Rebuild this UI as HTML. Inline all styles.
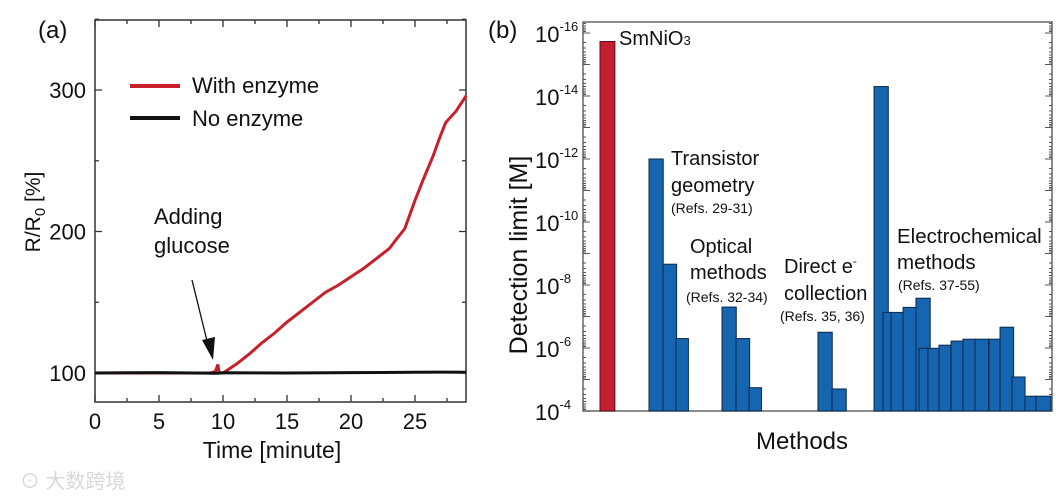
<!DOCTYPE html>
<html><head><meta charset="utf-8"><style>
html,body{margin:0;padding:0;background:#fff;}
svg{display:block;font-family:"Liberation Sans","Noto Sans CJK SC",sans-serif;}
</style></head><body>
<svg id="fig" width="1056" height="501" viewBox="0 0 1056 501" xmlns="http://www.w3.org/2000/svg">
<g id="pa"></g>
<g id="pb"></g>
<text x="20" y="488" font-size="20" fill="#d8d8d8">⊙ 大数跨境</text>
</svg>
<script>
// ---------- Panel (a) data ----------
const timeTicks = [0,5,10,15,20,25];
const yTicksA = [100,200,300];
const redT = [0,9,9.4,9.6,9.7,9.8,10,11,12,13,14,15,16,17,18,19,20,21,22,23,23.5,24.2,25,25.7,26.4,27,27.4,28.2,29];
const redV = [100,100,101,106,100,100,100,106,113,121,128,136,143,150,157,162,168,174,181,188,194,202,222,238,253,268,277,285,296];
const blackT = [0,5,9.5,10,15,20,25,27,29];
const blackV = [100,100.3,99.8,100.2,100,100.3,100.5,100.6,100.5];
// ---------- Panel (b) data ----------
const methodGroups = ["SmNiO3","Transistor","Transistor","Transistor","Optical","Optical","Optical","Direct","Direct",
 "Electro","Electro","Electro","Electro","Electro","Electro","Electro","Electro","Electro","Electro","Electro","Electro","Electro","Electro","Electro","Electro"];
const methodSlot = [0,3.95,5.08,6.13,9.84,10.97,12.02,17.58,18.71,22.1,22.82,23.47,24.44,25.48,25.73,26.45,27.34,28.31,29.27,30.24,31.37,32.26,33.23,34.27,35.16];
const slotWidth = [1.2,1.15,1.1,1,1.15,1.1,1,1.15,1.15,1.15,0.7,1,1.05,1.15,0.75,0.9,0.95,1,1,1.1,0.9,1.1,1.05,0.95,1.2];
const detExp = [-15.73,-12.0,-8.66,-6.3,-7.3,-6.3,-4.74,-6.5,-4.7,-14.3,-7.13,-7.13,-7.29,-7.58,-5.99,-5.99,-6.09,-6.22,-6.28,-6.28,-6.28,-6.66,-5.08,-4.47,-4.47];
const yTickExpB = [-16,-14,-12,-10,-8,-6,-4];

const NS="http://www.w3.org/2000/svg";
function mk(parent, tag, attrs, text){
  const e=document.createElementNS(NS,tag);
  for(const k in attrs) e.setAttribute(k,attrs[k]);
  if(text!==undefined) e.textContent=text;
  parent.appendChild(e); return e;
}
// ---- Panel a ----
const pa=document.getElementById('pa');
const ax=t=>95+t*12.8, ay=v=>373-(v-100)*1.415;
const boxA=mk(pa,'rect',{x:95,y:20,width:371,height:382,fill:'none',stroke:'#333','stroke-width':1.5});


for(let t=0;t<=29;t+=2.5){
  const len=(t%5===0)?7:4;
  const tk=mk(pa,'path',{d:`M${ax(t)},402v${-len}M${ax(t)},20v${len}`,stroke:'#333','stroke-width':1.3});
  
  
}
timeTicks.forEach(t=>{
  const l=mk(pa,'text',{x:ax(t),y:429,'font-size':22,'text-anchor':'middle',fill:'#111'},String(t));
  
  
});
for(let v=100;v<=350;v+=50){
  const len=(v%100===0)?7:4;
  const tk=mk(pa,'path',{d:`M95,${ay(v)}h${len}M466,${ay(v)}h${-len}`,stroke:'#333','stroke-width':1.3});
  
  
}
yTicksA.forEach(v=>{
  const l=mk(pa,'text',{x:86,y:ay(v)+8,'font-size':22,'text-anchor':'end',fill:'#111'},String(v));
  
  
});
const redLine=mk(pa,'polyline',{points:redT.map((t,i)=>ax(t)+','+ay(redV[i])).join(' '),fill:'none',stroke:'#c8202a','stroke-width':3});


const blkLine=mk(pa,'polyline',{points:blackT.map((t,i)=>ax(t)+','+ay(blackV[i])).join(' '),fill:'none',stroke:'#111','stroke-width':3});


</script>
<script>
(function(){
const pa=document.getElementById('pa');
pa.insertAdjacentHTML('beforeend',`
<text x="38" y="38" font-size="24" fill="#111">(a)</text>
<line x1="130" y1="86" x2="180" y2="86" stroke="#c8202a" stroke-width="4"/>
<text x="192" y="93" font-size="22" fill="#111">With enzyme</text>
<line x1="130" y1="118" x2="180" y2="118" stroke="#111" stroke-width="4"/>
<text x="192" y="126" font-size="22" fill="#111">No enzyme</text>
<text x="154" y="224" font-size="22" fill="#111">Adding</text>
<text x="154" y="253" font-size="22" fill="#111">glucose</text>
<line x1="192" y1="280" x2="208" y2="345" stroke="#111" stroke-width="1.3"/>
<polygon points="213,360 202,340 215,337" fill="#111"/>
<text x="272" y="458" font-size="23" text-anchor="middle" fill="#111">Time [minute]</text>
<text transform="translate(40,212) rotate(-90)" font-size="21" text-anchor="middle" fill="#111">R/R<tspan font-size="15" dy="5">0</tspan><tspan dy="-5"> [%]</tspan></text>
`);
})();
// ---- Panel b ----
const pb=document.getElementById('pb');
const bx=s=>600+s*12.4, by=e=>411-(-4-e)*31.5;
const frameB=mk(pb,'rect',{x:583,y:22,width:469,height:389,fill:'none',stroke:'#666','stroke-width':1.5});


for(let d=-17;d<=-4;d++){
  for(let m=1;m<10;m++){
    const e=d+Math.log10(m);
    const y=by(e); if(y<22||y>411) continue;
    const len=m===1?7:3;
    const tk=mk(pb,'path',{d:`M583,${y}h${len}M1052,${y}h${-len}`,stroke:'#555','stroke-width':1});
    
    
  }
}
yTickExpB.forEach(e=>{
  const t=mk(pb,'text',{x:535,y:by(e)+9,'font-size':22,fill:'#111'});
  
  
  mk(t,'tspan',{},'10');
  mk(t,'tspan',{'font-size':13,dy:-11},String(e));
});
methodGroups.forEach((g,i)=>{
  const x=bx(methodSlot[i]), w=slotWidth[i]*12.4, y=by(detExp[i]);
  const r=mk(pb,'rect',{x:x,y:y,width:w,height:411-y,fill:g==='SmNiO3'?'#c41e30':'#1565b0',stroke:g==='SmNiO3'?'#5a1015':'#0b2a4a','stroke-width':1});
  
  
});
pb.insertAdjacentHTML('beforeend',`
<text x="488" y="38" font-size="24" fill="#111">(b)</text>
<text x="619" y="45" font-size="20" fill="#111">SmNiO<tspan font-size="13">3</tspan></text>
<text x="671" y="165" font-size="20" fill="#111">Transistor</text>
<text x="671" y="192" font-size="20" fill="#111">geometry</text>
<text x="671" y="213" font-size="14" fill="#111">(Refs. 29-31)</text>
<text x="690" y="253" font-size="20" fill="#111">Optical</text>
<text x="690" y="279" font-size="20" fill="#111">methods</text>
<text x="686" y="302" font-size="14" fill="#111">(Refs. 32-34)</text>
<text x="784" y="273" font-size="20" fill="#111">Direct e<tspan font-size="12" dy="-8">-</tspan></text>
<text x="784" y="300" font-size="20" fill="#111">collection</text>
<text x="780" y="321" font-size="14" fill="#111">(Refs. 35, 36)</text>
<text x="897" y="243" font-size="20.5" fill="#111">Electrochemical</text>
<text x="897" y="269" font-size="20.5" fill="#111">methods</text>
<text x="898" y="290" font-size="14" fill="#111">(Refs. 37-55)</text>
<text x="802" y="449" font-size="24" text-anchor="middle" fill="#111">Methods</text>
<text transform="translate(527,255) rotate(-90)" font-size="25" text-anchor="middle" fill="#111">Detection limit [M]</text>
`);
</script>
</body></html>
